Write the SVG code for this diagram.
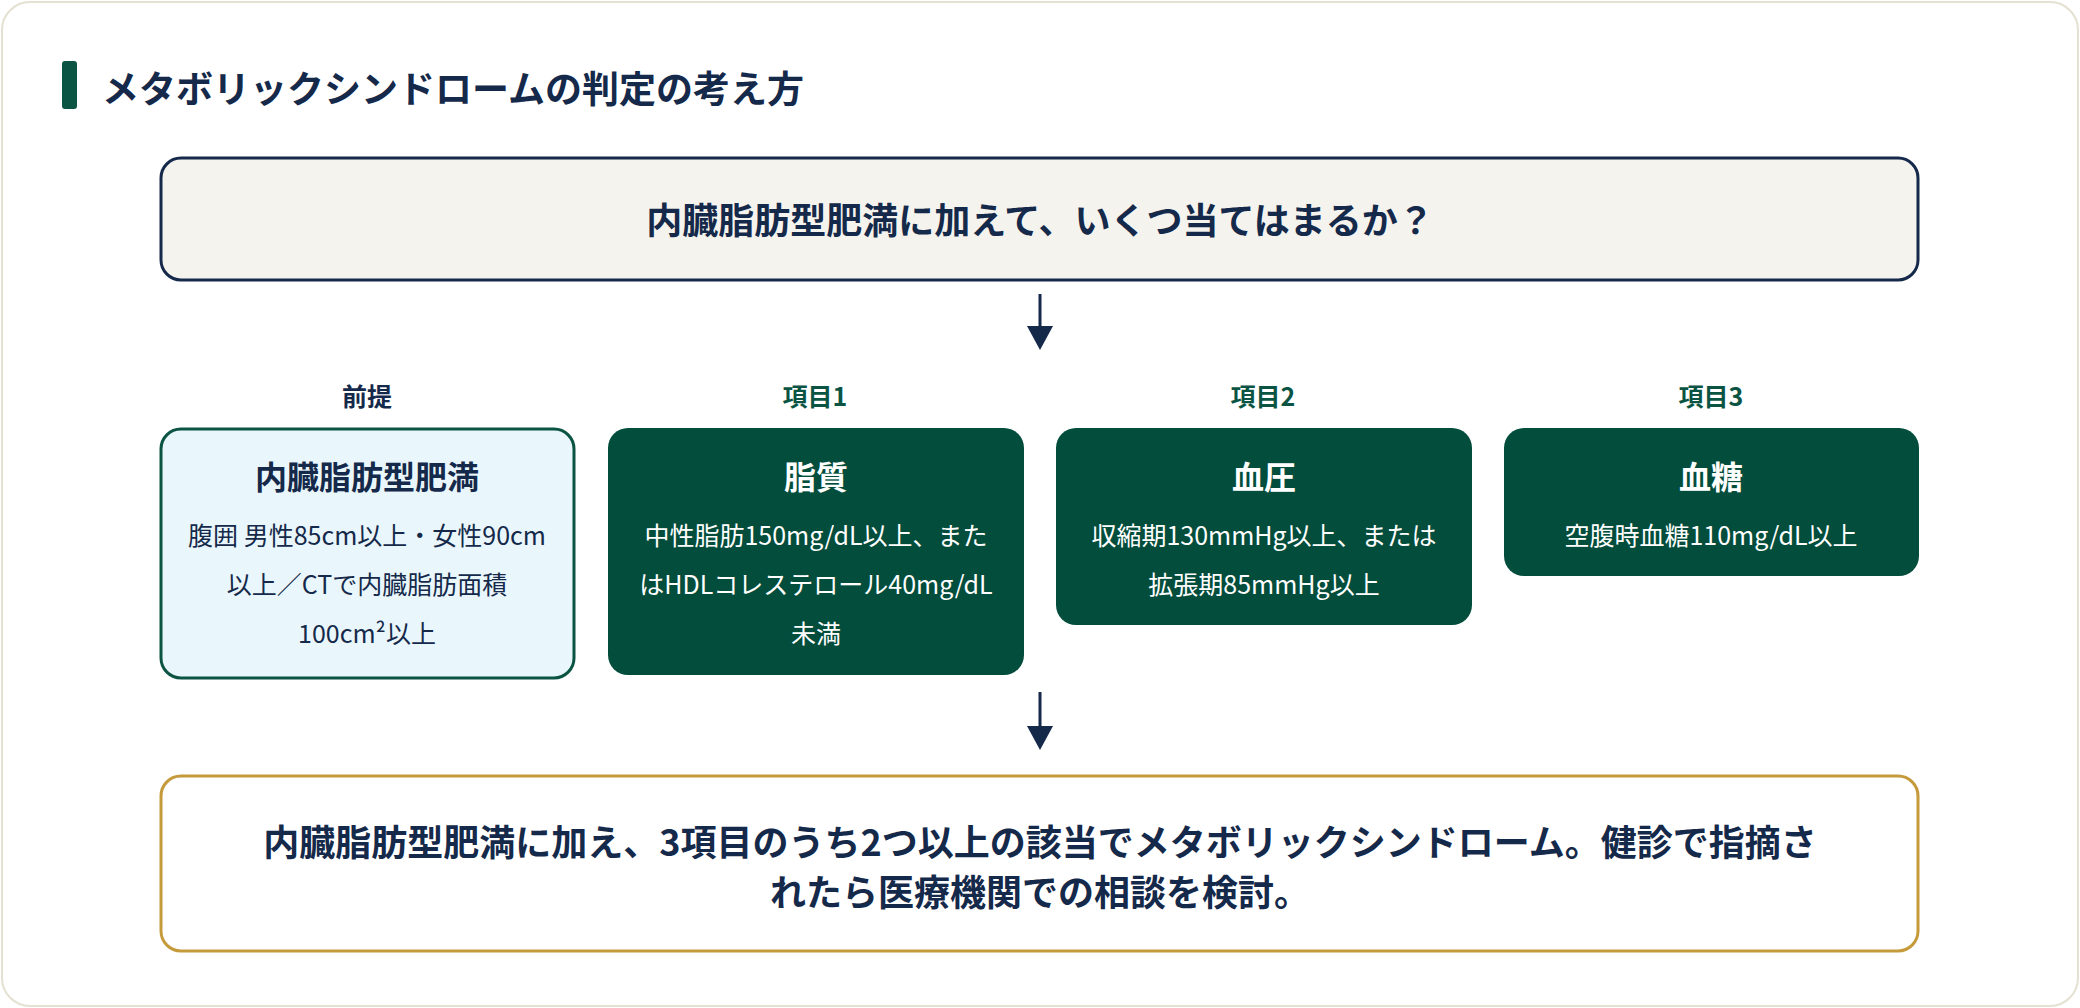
<svg xmlns="http://www.w3.org/2000/svg" width="2080" height="1008" viewBox="0 0 2080 1008">
<defs>
<style>
text{font-family:"Noto Sans CJK JP","Noto Sans",sans-serif;text-anchor:middle}
.b{font-weight:700}
.navy{fill:#15294a}
.grn{fill:#0b5443}
.w{fill:#ffffff}
.body{font-size:25px}
.ntitle{font-size:32px;font-weight:700}
.lbl{font-size:25px;font-weight:700}
.item{fill:#034d3c}
</style>
<marker id="ah" viewBox="0 0 10 10" refX="5" refY="10" markerWidth="26" markerHeight="26" markerUnits="userSpaceOnUse" orient="auto-start-reverse">
<path d="M0,0 L10,0 L5,10 Z" fill="#15294a" transform="rotate(0)"/>
</marker>
</defs>
<rect x="2" y="2" width="2076" height="1004" rx="28" fill="#ffffff" stroke="#e4e1d3" stroke-width="2"/>
<g id="title">
<rect x="62" y="61" width="15" height="48" rx="3" fill="#0b5443"/>
<text x="102" y="103" class="b navy" style="font-size:37px;text-anchor:start">メタボリックシンドロームの判定の考え方</text>
</g>
<g id="question">
<rect x="161" y="158" width="1757" height="122" rx="20" fill="#f5f3ee" stroke="#15294a" stroke-width="3"/>
<text x="1040" y="234" class="b navy" style="font-size:36px">内臓脂肪型肥満に加えて、いくつ当てはまるか？</text>
</g>
<g id="connectors" stroke="#15294a" stroke-width="3" fill="none">
<line x1="1040" y1="294" x2="1040" y2="332"/>
<path d="M1027,326 L1053,326 L1040,350 Z" fill="#15294a" stroke="none"/>
<line x1="1040" y1="692" x2="1040" y2="732"/>
<path d="M1027,726 L1053,726 L1040,750 Z" fill="#15294a" stroke="none"/>
</g>
<g id="premise">
<text x="367" y="406" class="lbl navy">前提</text>
<rect x="161" y="429" width="413" height="249" rx="20" fill="#e9f7fc" stroke="#0b5443" stroke-width="3"/>
<text x="367" y="489" class="ntitle navy">内臓脂肪型肥満</text>
<text x="367" y="545" class="body navy">腹囲 男性85cm以上・女性90cm</text>
<text x="367" y="594" class="body navy">以上／CTで内臓脂肪面積</text>
<text x="367" y="643" class="body navy">100cm²以上</text>
</g>
<g id="item1">
<text x="815" y="406" class="lbl grn">項目1</text>
<rect x="608" y="428" width="416" height="247" rx="20" class="item"/>
<text x="816" y="489" class="ntitle w">脂質</text>
<text x="816" y="545" class="body w">中性脂肪150mg/dL以上、また</text>
<text x="816" y="594" class="body w">はHDLコレステロール40mg/dL</text>
<text x="816" y="643" class="body w">未満</text>
</g>
<g id="item2">
<text x="1263" y="406" class="lbl grn">項目2</text>
<rect x="1056" y="428" width="416" height="197" rx="20" class="item"/>
<text x="1264" y="489" class="ntitle w">血圧</text>
<text x="1264" y="545" class="body w">収縮期130mmHg以上、または</text>
<text x="1264" y="594" class="body w">拡張期85mmHg以上</text>
</g>
<g id="item3">
<text x="1711" y="406" class="lbl grn">項目3</text>
<rect x="1504" y="428" width="415" height="148" rx="20" class="item"/>
<text x="1711" y="489" class="ntitle w">血糖</text>
<text x="1711" y="545" class="body w">空腹時血糖110mg/dL以上</text>
</g>
<g id="conclusion">
<rect x="161" y="776" width="1757" height="175" rx="20" fill="#ffffff" stroke="#c59a3b" stroke-width="3"/>
<text x="1040" y="856" class="b navy" style="font-size:36px">内臓脂肪型肥満に加え、3項目のうち2つ以上の該当でメタボリックシンドローム。健診で指摘さ</text>
<text x="1040" y="906" class="b navy" style="font-size:36px">れたら医療機関での相談を検討。</text>
</g>
</svg>
